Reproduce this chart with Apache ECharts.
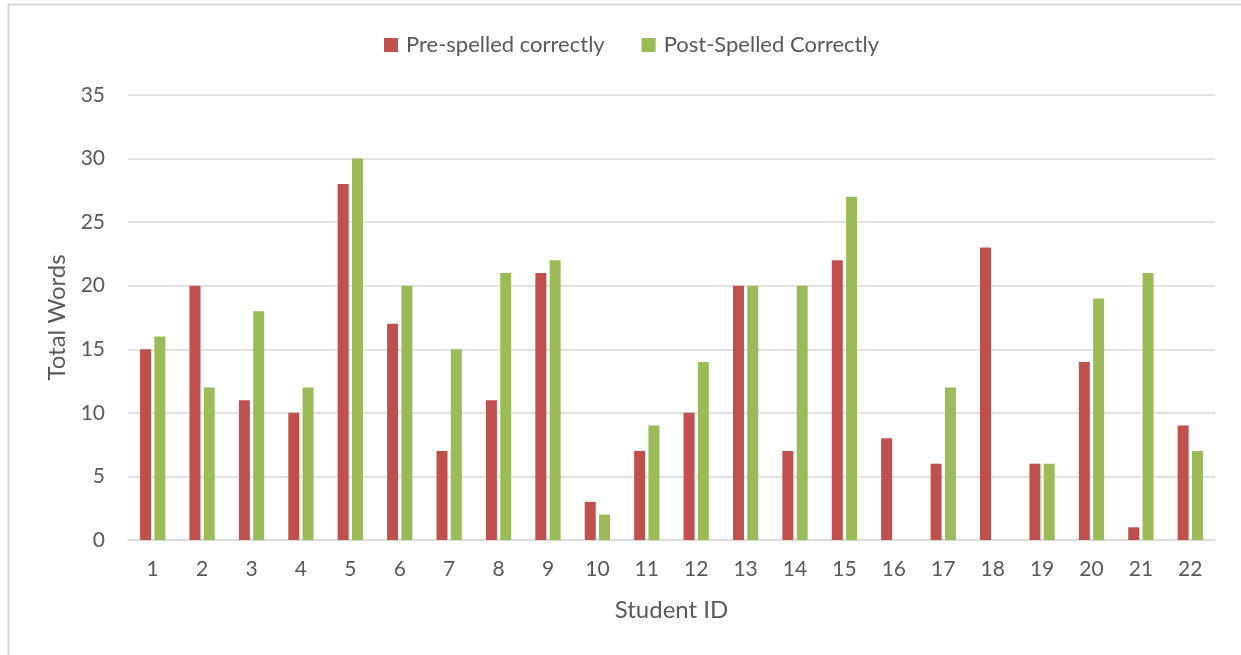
<!DOCTYPE html>
<html>
<head>
<meta charset="utf-8">
<script src="https://cdn.jsdelivr.net/npm/echarts@6/dist/echarts.min.js"></script>
<style>
  html, body { margin: 0; padding: 0; background: #fff; }
  #chart { width: 1241px; height: 655px; }
</style>
</head>
<body>
<div id="chart"></div>
<script>
// Student IDs along the x axis
const studentIds = ['1','2','3','4','5','6','7','8','9','10','11','12','13','14','15','16','17','18','19','20','21','22'];
// Words spelled correctly before and after
const preSpelled = [15, 20, 11, 10, 28, 17, 7, 11, 21, 3, 7, 10, 20, 7, 22, 8, 6, 23, 6, 14, 1, 9];
const postSpelled = [16, 12, 18, 12, 30, 20, 15, 21, 22, 2, 9, 14, 20, 20, 27, 0, 12, 0, 6, 19, 21, 7];

const FONT = 'Lato, "Open Sans", sans-serif';
const TEXT = '#595959';

const chart = echarts.init(document.getElementById('chart'), null, { renderer: 'canvas' });
chart.setOption({
  animation: false,
  textStyle: { fontFamily: FONT },
  graphic: [{
    type: 'rect',
    shape: { x: 8.5, y: 4.5, width: 1300, height: 700 },
    style: { fill: 'none', stroke: '#d9d9d9', lineWidth: 2 },
    silent: true
  }],
  legend: {
    top: 29,
    left: 379,
    itemWidth: 14,
    itemHeight: 14,
    itemGap: 37,
    icon: 'rect',
    textStyle: { fontFamily: FONT, fontSize: 22, color: TEXT, padding: [0, 0, 0, 3] },
    data: ['Pre-spelled correctly', 'Post-Spelled Correctly']
  },
  grid: { left: 128, right: 26, top: 95, bottom: 115, containLabel: false },
  xAxis: {
    type: 'category',
    data: studentIds,
    name: 'Student ID',
    nameLocation: 'middle',
    nameGap: 58,
    nameTextStyle: { fontFamily: FONT, fontSize: 24, color: TEXT },
    axisLine: { lineStyle: { color: '#d9d9d9', width: 1.5 } },
    axisTick: { show: false },
    axisLabel: { fontFamily: FONT, fontSize: 21, color: TEXT, margin: 19 },
  },
  yAxis: {
    type: 'value',
    min: 0,
    max: 35,
    interval: 5,
    name: 'Total Words',
    nameLocation: 'middle',
    nameRotate: 90,
    nameGap: 56,
    nameTextStyle: { fontFamily: FONT, fontSize: 24, color: TEXT },
    axisLine: { show: false },
    axisTick: { show: false },
    axisLabel: { fontFamily: FONT, fontSize: 21, color: TEXT, margin: 23 },
    splitLine: { lineStyle: { color: '#d9d9d9', width: 1.5 } }
  },
  series: [
    {
      name: 'Pre-spelled correctly',
      type: 'bar',
      data: preSpelled,
      barWidth: 11,
      barGap: '30%',
      itemStyle: { color: '#C0504D' }
    },
    {
      name: 'Post-Spelled Correctly',
      type: 'bar',
      data: postSpelled,
      barWidth: 11,
      barGap: '30%',
      itemStyle: { color: '#9BBB59' }
    }
  ]
});
</script>
</body>
</html>
